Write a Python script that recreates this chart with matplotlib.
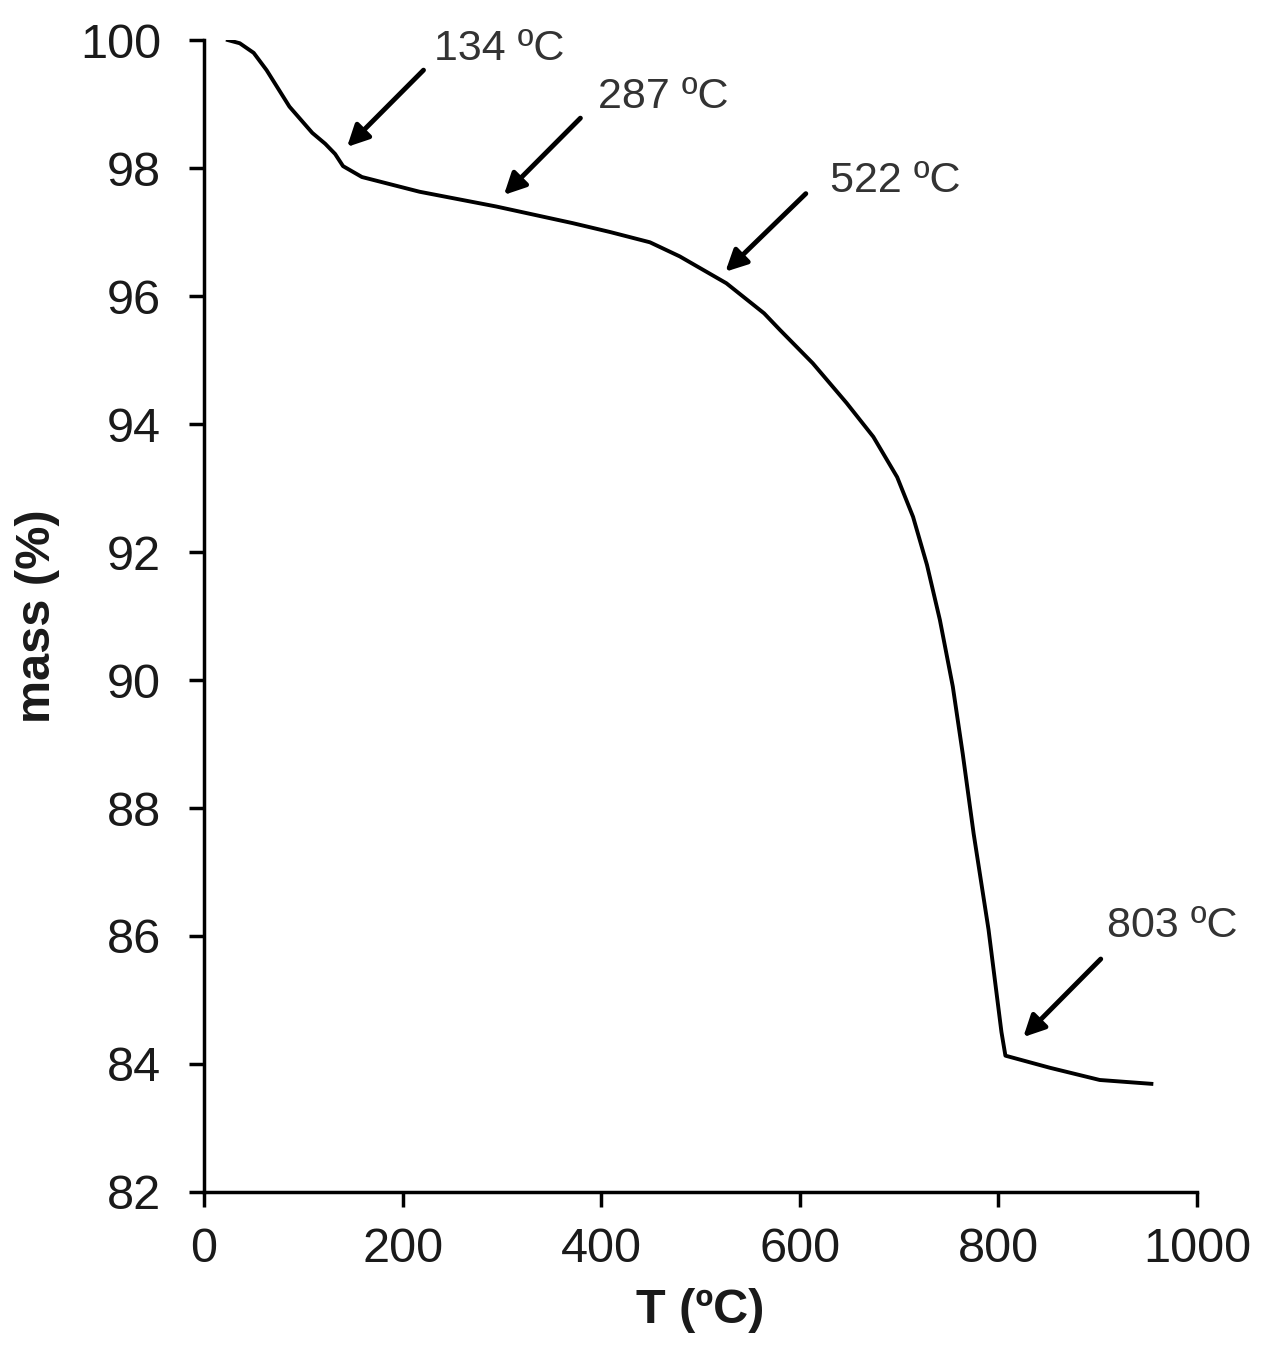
import matplotlib
matplotlib.use("Agg")
import matplotlib.pyplot as plt

plt.rcParams['font.family'] = ['Liberation Sans', 'DejaVu Sans']

# TGA curve
temp = [24, 36, 50, 63, 86, 109, 122, 132, 140, 159, 217, 294, 371, 409,
        449, 479, 526, 564, 580, 613, 647, 674, 698, 714, 728, 741, 754,
        764, 775, 790, 803, 807, 852, 902, 954]
mass = [100.0, 99.95, 99.8, 99.53, 98.96, 98.55, 98.38, 98.22, 98.03, 97.86,
        97.63, 97.4, 97.14, 97.0, 96.84, 96.62, 96.2, 95.73, 95.47, 94.95,
        94.33, 93.8, 93.17, 92.55, 91.8, 90.94, 89.9, 88.85, 87.6, 86.1,
        84.5, 84.13, 83.94, 83.75, 83.69]

# annotations: label, arrow head (T, mass), arrow tail (T, mass), text anchor
labels = ['134 ºC', '287 ºC', '522 ºC', '803 ºC']
heads = [(144, 98.33), (302, 97.58), (525, 96.38), (825, 84.42)]
tails = [(221, 99.53), (379, 98.78), (606, 97.6), (903, 85.64)]
text_pos = [(232, 99.69), (397, 98.94), (630, 97.63), (909, 85.98)]

xticks = [0, 200, 400, 600, 800, 1000]
yticks = [82, 84, 86, 88, 90, 92, 94, 96, 98, 100]

fig = plt.figure(figsize=(12.61, 13.49), dpi=100)
ax = fig.add_axes([0.1618, 0.1164, 0.7875, 0.8539])

ax.plot(temp, mass, color='black', lw=2.8, solid_joinstyle='round')

for lab, h, t, p in zip(labels, heads, tails, text_pos):
    ax.annotate('', xy=h, xytext=t,
                arrowprops=dict(arrowstyle='-|>', lw=3.5, color='black',
                                mutation_scale=32, shrinkA=0, shrinkB=0))
    ax.text(p[0], p[1], lab, fontsize=31, color='#333333',
            ha='left', va='baseline')

ax.set_xlim(0, 1000)
ax.set_ylim(82, 100)
ax.set_xticks(xticks)
ax.set_yticks(yticks)

for s in ['top', 'right']:
    ax.spines[s].set_visible(False)
for s in ['left', 'bottom']:
    ax.spines[s].set_linewidth(2.5)

ax.tick_params(axis='both', direction='out', length=11, width=2.5,
               labelsize=35, labelcolor='#1a1a1a')
ax.tick_params(axis='y', pad=20)
ax.tick_params(axis='x', pad=14)

ax.set_xlabel('T (ºC)', fontsize=35, fontweight='bold', color='#1a1a1a')
ax.set_ylabel('mass (%)', fontsize=35, fontweight='bold', color='#1a1a1a')
ax.xaxis.set_label_coords(0.5, -0.083)
ax.yaxis.set_label_coords(-0.145, 0.5)

fig.savefig('out.png', dpi=100, facecolor='white')
